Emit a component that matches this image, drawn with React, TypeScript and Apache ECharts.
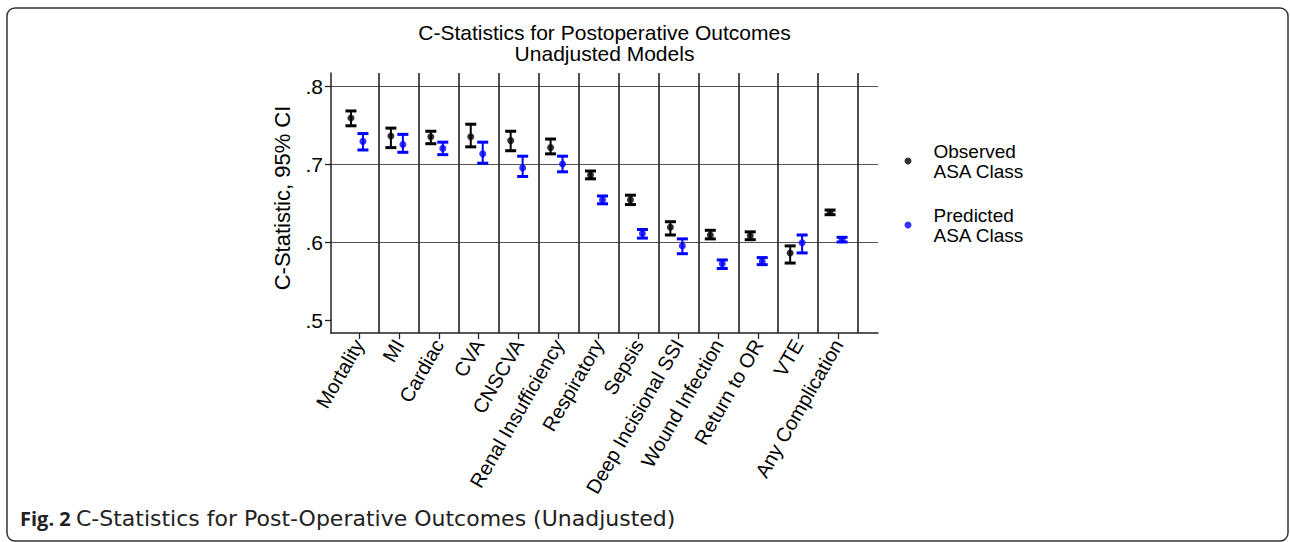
import React, { useEffect, useRef } from "react";
import * as echarts from "echarts";

const categories = [
  "Mortality", "MI", "Cardiac", "CVA", "CNSCVA", "Renal Insufficiency", "Respiratory",
  "Sepsis", "Deep Incisional SSI", "Wound Infection", "Return to OR", "VTE", "Any Complication",
];
const observedEst = [0.759, 0.736, 0.735, 0.735, 0.730, 0.721, 0.686, 0.654, 0.619, 0.609, 0.608, 0.586, 0.638];
const observedLo = [0.749, 0.721, 0.726, 0.722, 0.717, 0.713, 0.681, 0.648, 0.609, 0.604, 0.603, 0.573, 0.635];
const observedHi = [0.768, 0.746, 0.742, 0.751, 0.742, 0.732, 0.691, 0.660, 0.626, 0.615, 0.613, 0.595, 0.641];
const predictedEst = [0.729, 0.725, 0.720, 0.713, 0.695, 0.700, 0.654, 0.611, 0.595, 0.572, 0.575, 0.599, 0.603];
const predictedLo = [0.718, 0.715, 0.712, 0.701, 0.684, 0.690, 0.649, 0.605, 0.585, 0.566, 0.571, 0.586, 0.600];
const predictedHi = [0.739, 0.738, 0.728, 0.728, 0.710, 0.710, 0.659, 0.616, 0.604, 0.577, 0.580, 0.609, 0.606];
const yTicks = [0.5, 0.6, 0.7, 0.8];
const seriesNames = ["Observed ASA Class", "Predicted ASA Class"];

const FONT = "'Liberation Sans', Arial, sans-serif";

// layout constants
const GL = 331, GT = 73, GW = 547, GH = 260, PAD = 13;
const XMIN = 0.3, XMAX = 14;
const OBS_OFF = -0.2, PRED_OFF = 0.1;

export default function App() {
  const ref = useRef<HTMLDivElement>(null);
  useEffect(() => {
    if (!ref.current) return;
    const chart = echarts.init(ref.current, undefined, { renderer: "svg" });
    const yLo = yTicks[0], yHi = yTicks[yTicks.length - 1];
    const innerH = GH - 2 * PAD;
    const perPx = (yHi - yLo) / innerH;
    const yMin0 = yLo - PAD * perPx, yMax0 = yHi + PAD * perPx;
    const pxPerX = GW / (XMAX - XMIN);
    const g2Left = GL + (1 - XMIN) * pxPerX;
    const g2Width = (categories.length - 1) * pxPerX;
    const seps = categories.map((_, i) => i + 1.5);

    const barData = (est: number[], lo: number[], hi: number[], off: number) =>
      est.map((_, i) => [i + 1 + off, lo[i], hi[i]]);
    const ptData = (est: number[], off: number) => est.map((v, i) => [i + 1 + off, v]);

    const errRender = (color: string) => (params: any, api: any) => {
      const x = api.value(0);
      const p1 = api.coord([x, api.value(1)]);
      const p2 = api.coord([x, api.value(2)]);
      const hw = 5.5;
      const st = { stroke: color, lineWidth: 2 };
      const cap = { stroke: color, lineWidth: 3 };
      return {
        type: "group",
        children: [
          { type: "line", shape: { x1: p1[0], y1: p1[1], x2: p2[0], y2: p2[1] }, style: st },
          { type: "line", shape: { x1: p1[0] - hw, y1: p1[1], x2: p1[0] + hw, y2: p1[1] }, style: cap },
          { type: "line", shape: { x1: p2[0] - hw, y1: p2[1], x2: p2[0] + hw, y2: p2[1] }, style: cap },
        ],
      };
    };

    chart.setOption({
      animation: false,
      textStyle: { fontFamily: FONT, color: "#000" },
      title: {
        text: "C-Statistics for Postoperative Outcomes\nUnadjusted Models",
        left: GL + GW / 2,
        top: 22,
        padding: 0,
        textAlign: "center",
        textStyle: { fontSize: 21, fontWeight: "normal", lineHeight: 21, color: "#000", fontFamily: FONT },
      },
      legend: {
        orient: "vertical",
        left: 899.5,
        top: 136,
        itemWidth: 7,
        itemHeight: 7,
        itemGap: 24,
        icon: "circle",
        data: seriesNames,
        formatter: (n: string) => n.replace(" ASA", "\nASA"),
        textStyle: { fontSize: 19, lineHeight: 20, color: "#000", fontFamily: FONT, padding: [0, 0, 0, 17] },
      },
      grid: [
        { left: GL, top: GT, width: GW, height: GH },
        { left: GL, top: GT + PAD, width: GW, height: innerH },
        { left: g2Left, top: GT, width: g2Width, height: GH },
      ],
      xAxis: [
        {
          gridIndex: 0, type: "value", min: XMIN, max: XMAX,
          axisLine: { show: true, onZero: false, lineStyle: { color: "#222", width: 1.5 } },
          axisTick: { show: false }, axisLabel: { show: false }, splitLine: { show: false },
        },
        { gridIndex: 1, type: "value", min: XMIN, max: XMAX, show: false },
        {
          gridIndex: 2, type: "value", min: 1, max: categories.length, interval: 1,
          axisLine: { show: false },
          axisTick: { show: true, length: 6, lineStyle: { color: "#222", width: 1.3 } },
          splitLine: { show: false },
          axisLabel: {
            rotate: 60, margin: 8, fontSize: 20, color: "#000", fontFamily: FONT,
            formatter: (v: number) => categories[Math.round(v) - 1] ?? "",
          },
        },
      ],
      yAxis: [
        {
          gridIndex: 0, type: "value", min: yMin0, max: yMax0,
          axisLine: { show: true, onZero: false, lineStyle: { color: "#222", width: 1.5 } },
          axisTick: { show: false }, axisLabel: { show: false }, splitLine: { show: false },
        },
        {
          gridIndex: 1, type: "value", min: yLo, max: yHi, interval: 0.1,
          axisLine: { show: false },
          axisTick: { show: true, length: 6, lineStyle: { color: "#222", width: 1.3 } },
          axisLabel: {
            margin: 8, fontSize: 21, color: "#000", fontFamily: FONT,
            formatter: (v: number) => v.toFixed(1).replace(/^0/, ""),
          },
          splitLine: { show: true, showMinLine: false, lineStyle: { color: "#555", width: 1.2 } },
        },
        { gridIndex: 2, type: "value", min: 0, max: 1, show: false },
      ],
      series: [
        {
          type: "custom", name: "obsCI", xAxisIndex: 0, yAxisIndex: 0,
          data: barData(observedEst, observedLo, observedHi, OBS_OFF),
          renderItem: errRender("#000"), z: 3,
        },
        {
          type: "custom", name: "predCI", xAxisIndex: 0, yAxisIndex: 0,
          data: barData(predictedEst, predictedLo, predictedHi, PRED_OFF),
          renderItem: errRender("#0000ff"), z: 3,
        },
        {
          type: "scatter", name: seriesNames[0], xAxisIndex: 0, yAxisIndex: 0,
          data: ptData(observedEst, OBS_OFF), symbolSize: 7, itemStyle: { color: "#000" }, z: 4,
          markLine: {
            silent: true, symbol: ["none", "none"], label: { show: false },
            lineStyle: { color: "#222", width: 1.6, type: "solid" },
            data: seps.map((s) => ({ xAxis: s })),
          },
        },
        {
          type: "scatter", name: seriesNames[1], xAxisIndex: 0, yAxisIndex: 0,
          data: ptData(predictedEst, PRED_OFF), symbolSize: 7, itemStyle: { color: "#0000ff" }, z: 4,
        },
      ],
      graphic: [
        {
          type: "rect", z: 0, silent: true,
          shape: { x: 7, y: 8, width: 1281, height: 533, r: 8 },
          style: { fill: "none", stroke: "#333", lineWidth: 1.5 },
        },
        {
          type: "text", x: 282, y: 198, rotation: Math.PI / 2,
          style: {
            text: "C-Statistic, 95% CI", align: "center", verticalAlign: "middle",
            fontSize: 22, fill: "#000", fontFamily: FONT,
          },
        },
        {
          type: "text", left: 20, top: 507,
          style: {
            text: "{b|Fig. 2 }{r|C-Statistics for Post-Operative Outcomes (Unadjusted)}",
            rich: {
              b: { fontFamily: "'Open Sans', sans-serif", fontWeight: "bold", fontSize: 20, fill: "#222" },
              r: { fontFamily: "'DejaVu Sans', sans-serif", fontSize: 22, fill: "#222" },
            },
          },
        },
      ],
    });
    return () => chart.dispose();
  }, []);
  return (
    <div
      ref={ref}
      style={{ position: "absolute", left: 0, top: 0, width: 1290, height: 542, background: "#fff" }}
    />
  );
}
